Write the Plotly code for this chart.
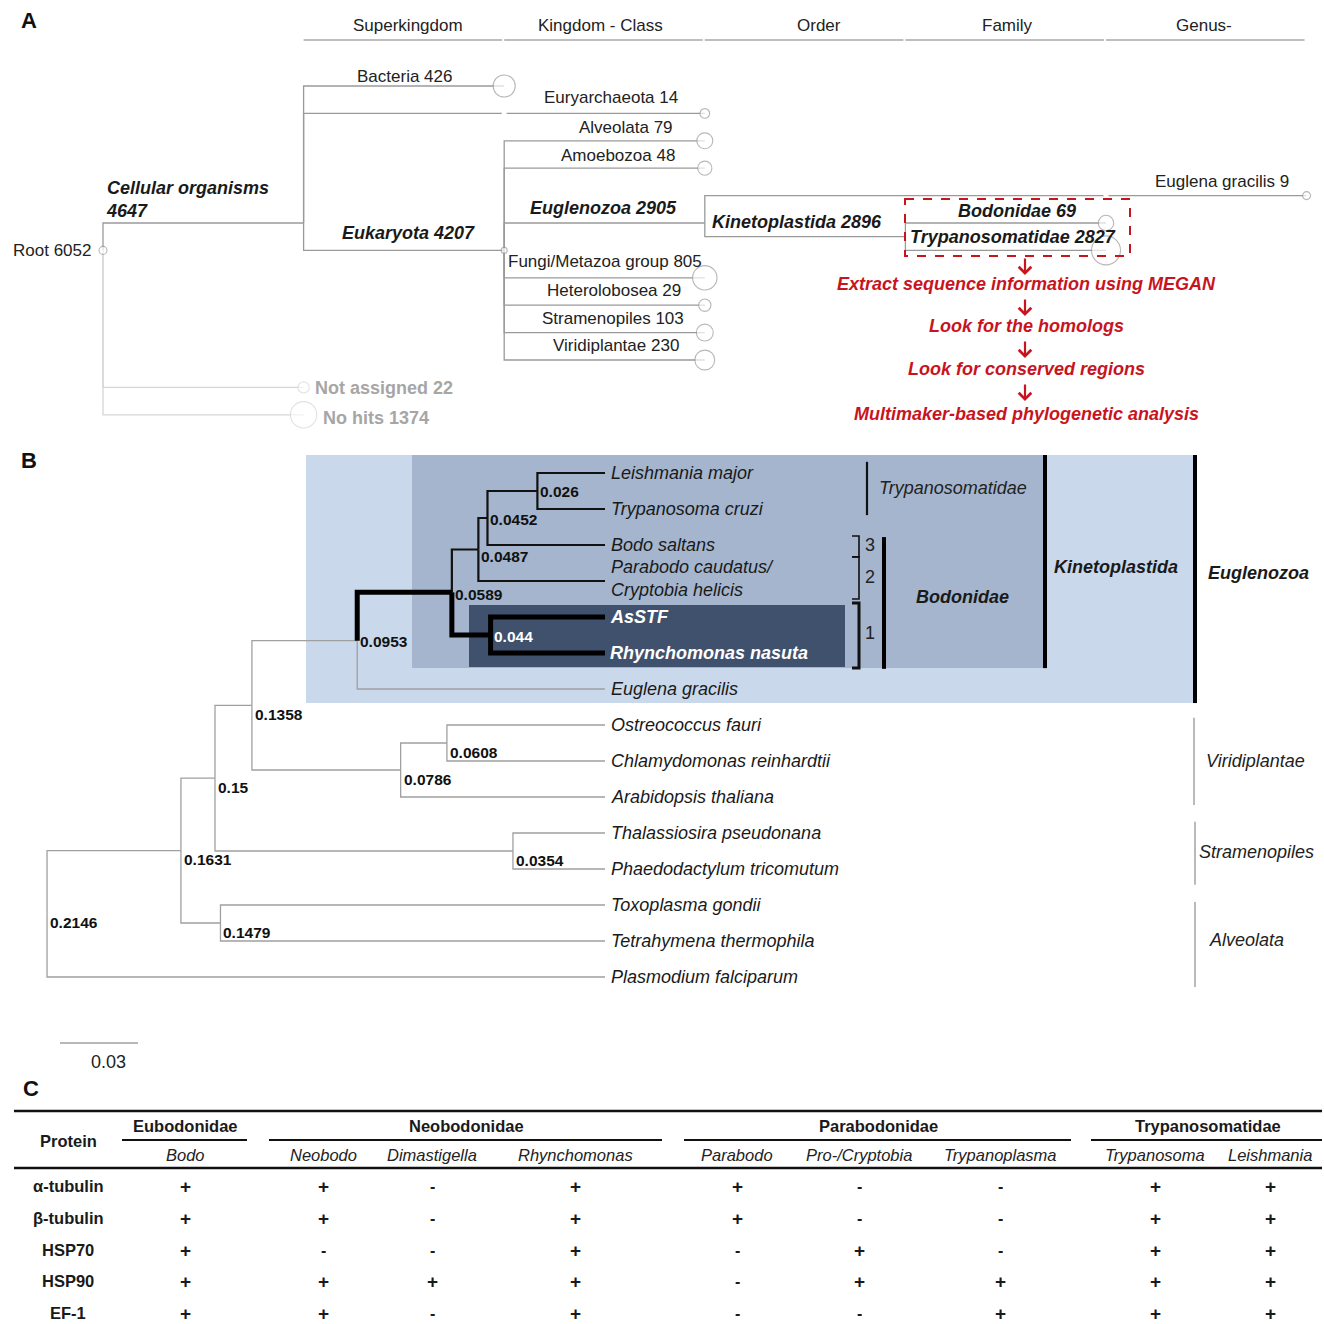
import math
import plotly.graph_objects as go

FONT = "Liberation Sans, Arial, Helvetica, sans-serif"
SIZE = 1324

# ======================= DATA =======================
# ---- Panel A : MEGAN taxonomic assignment of reads ----
rank_headers = ["Superkingdom", "Kingdom - Class", "Order", "Family", "Genus-"]
megan_taxa = ["Root", "Cellular organisms", "Bacteria", "Archaea", "Euryarchaeota",
              "Eukaryota", "Alveolata", "Amoebozoa", "Euglenozoa", "Euglena",
              "Euglena gracilis", "Kinetoplastida", "Bodonidae", "Trypanosomatidae",
              "Fungi/Metazoa group", "Heterolobosea", "Stramenopiles", "Viridiplantae",
              "Not assigned", "No hits"]
megan_parent = [None, "Root", "Cellular organisms", "Cellular organisms", "Archaea",
                "Cellular organisms", "Eukaryota", "Eukaryota", "Eukaryota", "Euglenozoa",
                "Euglena", "Euglenozoa", "Kinetoplastida", "Kinetoplastida",
                "Eukaryota", "Eukaryota", "Eukaryota", "Eukaryota", "Root", "Root"]
megan_reads = [6052, 4647, 426, 0, 14, 4207, 79, 48, 2905, 0, 9, 2896, 69, 2827,
               805, 29, 103, 230, 22, 1374]
megan_rank = [0, 1, 2, 2, 3, 2, 3, 3, 3, 5, 6, 4, 5, 5, 3, 3, 3, 3, 1, 1]
megan_order = [6, 5, 0, 1, 1, 6, 2, 3, 5, 4, 4, 5.5, 5, 6, 7, 8, 9, 10, 11, 12]
workflow_steps = ["Extract sequence information using MEGAN", "Look for the homologs",
                  "Look for conserved regions", "Multimaker-based phylogenetic analysis"]

# ---- Panel B : phylogenetic tree (node label = node height) ----
tip_names = ["Leishmania major", "Trypanosoma cruzi", "Bodo saltans",
             "Parabodo caudatus/ Cryptobia helicis", "AsSTF", "Rhynchomonas nasuta",
             "Euglena gracilis", "Ostreococcus fauri", "Chlamydomonas reinhardtii",
             "Arabidopsis thaliana", "Thalassiosira pseudonana", "Phaedodactylum tricomutum",
             "Toxoplasma gondii", "Tetrahymena thermophila", "Plasmodium falciparum"]
node_labels = ["0.026", "0.0452", "0.0487", "0.044", "0.0589", "0.0953", "0.0608",
               "0.0786", "0.1358", "0.0354", "0.15", "0.1479", "0.1631", "0.2146"]
node_children = [["Leishmania major", "Trypanosoma cruzi"],
                 ["0.026", "Bodo saltans"],
                 ["0.0452", "Parabodo caudatus/ Cryptobia helicis"],
                 ["AsSTF", "Rhynchomonas nasuta"],
                 ["0.0487", "0.044"],
                 ["0.0589", "Euglena gracilis"],
                 ["Ostreococcus fauri", "Chlamydomonas reinhardtii"],
                 ["0.0608", "Arabidopsis thaliana"],
                 ["0.0953", "0.0786"],
                 ["Thalassiosira pseudonana", "Phaedodactylum tricomutum"],
                 ["0.1358", "0.0354"],
                 ["Toxoplasma gondii", "Tetrahymena thermophila"],
                 ["0.15", "0.1479"],
                 ["0.1631", "Plasmodium falciparum"]]
scale_bar_value = 0.03

# ---- Panel C : protein presence table ----
families = ["Eubodonidae", "Neobodonidae", "Parabodonidae", "Trypanosomatidae"]
genera = ["Bodo", "Neobodo", "Dimastigella", "Rhynchomonas", "Parabodo",
          "Pro-/Cryptobia", "Trypanoplasma", "Trypanosoma", "Leishmania"]
proteins = ["α-tubulin", "β-tubulin", "HSP70", "HSP90", "EF-1"]
presence = [["+", "+", "-", "+", "+", "-", "-", "+", "+"],
            ["+", "+", "-", "+", "+", "-", "-", "+", "+"],
            ["+", "-", "-", "+", "-", "+", "-", "+", "+"],
            ["+", "+", "+", "+", "-", "+", "+", "+", "+"],
            ["+", "+", "-", "+", "-", "-", "+", "+", "+"]]

# ======================= STYLE / LAYOUT =======================
GREY = "#9a9a9a"
LIGHT = "#d6d6d6"
RED = "#c8141e"
DARK = "#1a1a1a"

fig = go.Figure()
anns, shapes = [], []


def add_text(s, x, y, size=17, color=DARK, bold=False, italic=False, xanchor="center",
             yanchor="middle", xref="x", yref="y", xshift=0, yshift=0, align="center"):
    if italic:
        s = "<i>" + s + "</i>"
    if bold:
        s = "<b>" + s + "</b>"
    anns.append(dict(text=s, x=x, y=y, xref=xref, yref=yref, showarrow=False,
                     xanchor=xanchor, yanchor=yanchor, xshift=xshift, yshift=yshift,
                     align=align, font=dict(family=FONT, size=size, color=color)))


def add_line(xs, ys, color, width, xaxis="x", yaxis="y"):
    fig.add_trace(go.Scatter(x=xs, y=ys, mode="lines", xaxis=xaxis, yaxis=yaxis,
                             line=dict(color=color, width=width),
                             hoverinfo="skip", showlegend=False))


def hline(x0, x1, y, color, width):
    shapes.append(dict(type="line", xref="x", yref="y", x0=x0, x1=x1, y0=y, y1=y,
                       line=dict(color=color, width=width)))


# ---------------- Panel A ----------------
A_X0, A_DX = 103, 200.6      # pixel of rank 0, pixels per rank
A_Y0, A_DY = 86, 27.4        # pixel of row 0, pixels per row
idx = {n: i for i, n in enumerate(megan_taxa)}

main_x, main_y, light_x, light_y = [], [], [], []
for i, name in enumerate(megan_taxa):
    p = megan_parent[i]
    if p is None:
        continue
    j = idx[p]
    xs = [megan_rank[j], megan_rank[j], megan_rank[i], None]
    ys = [megan_order[j], megan_order[i], megan_order[i], None]
    if name in ("Not assigned", "No hits"):
        light_x += xs; light_y += ys
    else:
        main_x += xs; main_y += ys
add_line(light_x, light_y, LIGHT, 1.3, "x3", "y3")
add_line(main_x, main_y, GREY, 1.3, "x3", "y3")

parents = set(p for p in megan_parent if p)
cx, cy, cs, cl = [], [], [], []
hx, hy = [], []
for i, name in enumerate(megan_taxa):
    if megan_reads[i] == 0:
        hx.append(megan_rank[i]); hy.append(megan_order[i])
        continue
    if name in parents:
        if name == "Root":
            size = 8
        elif name == "Eukaryota":
            size = 6
        else:
            continue
    else:
        size = 8.4 * math.log10(megan_reads[i])
    cx.append(megan_rank[i]); cy.append(megan_order[i]); cs.append(size)
    cl.append(LIGHT if name in ("Not assigned", "No hits") else GREY)
fig.add_trace(go.Scatter(x=hx, y=hy, mode="markers", xaxis="x3", yaxis="y3",
                         marker=dict(size=5, color="white", line=dict(width=0)),
                         hoverinfo="skip", showlegend=False))
fig.add_trace(go.Scatter(x=cx, y=cy, mode="markers", xaxis="x3", yaxis="y3",
                         marker=dict(size=cs, color="white", line=dict(width=1.1, color=cl)),
                         hoverinfo="skip", showlegend=False))

A_LABEL = {
    "Root": ("right", -10, 0, "r"),
    "Cellular organisms": ("left", -200, -24, "bi"),
    "Bacteria": ("right", -50, -10, "r"),
    "Euryarchaeota": ("right", -25, -16, "r"),
    "Eukaryota": ("right", -27, -17, "bi"),
    "Alveolata": ("right", -30, -13, "r"),
    "Amoebozoa": ("right", -28, -13, "r"),
    "Euglenozoa": ("right", -26, -15, "bi"),
    "Euglena gracilis": ("right", -16, -14, "r"),
    "Kinetoplastida": ("left", -195, -15, "bi"),
    "Bodonidae": ("center", -89, -12, "bi"),
    "Trypanosomatidae": ("center", -93, -13, "bi"),
    "Fungi/Metazoa group": ("left", -199, -16, "r"),
    "Heterolobosea": ("right", -22, -15, "r"),
    "Stramenopiles": ("right", -19, -14, "r"),
    "Viridiplantae": ("right", -24, -15, "r"),
    "Not assigned": ("left", 9, 1, "g"),
    "No hits": ("left", 17, 3, "g"),
}
for name, (xa, dx, dy, st) in A_LABEL.items():
    i = idx[name]
    sep = "<br>" if name == "Cellular organisms" else " "
    s = f"{name}{sep}{megan_reads[i]}"
    common = dict(xanchor=xa, xref="x3", yref="y3", xshift=dx, yshift=-dy, align="left")
    if st == "r":
        add_text(s, megan_rank[i], megan_order[i], 17, "#222222", **common)
    elif st == "bi":
        add_text(s, megan_rank[i], megan_order[i], 18, DARK, bold=True, italic=True, **common)
    else:
        add_text(s, megan_rank[i], megan_order[i], 18, "#a6a6a6", bold=True, **common)

header_center = [1.52, 2.48, 3.57, 4.51, 5.49]
for k, h in enumerate(rank_headers):
    add_text(h, header_center[k], 25, 17, "#222222", xref="x3", yref="y")
    L = k + 1
    shapes.append(dict(type="line", xref="x3", yref="y", x0=L + 0.0, x1=L + 0.99,
                       y0=40, y1=40, line=dict(color="#a8a8a8", width=1.6)))

shapes.append(dict(type="rect", xref="x", yref="y", x0=905, x1=1130, y0=199, y1=256,
                   line=dict(color=RED, width=2, dash="dash")))
step_y = [284, 326, 369, 414]
arrow_tip = [275, 316, 358, 401]
for k, s in enumerate(workflow_steps):
    add_text(s, 1026, step_y[k], 18, RED, bold=True, italic=True)
    anns.append(dict(x=1025, y=arrow_tip[k], xref="x", yref="y", ax=0, ay=-18,
                     showarrow=True, arrowhead=4, arrowsize=1.1, arrowwidth=2.2,
                     arrowcolor=RED, text=""))

# ---------------- Panel B ----------------
B_TIP_PX, B_PX_PER_UNIT = 605, 2600
B_ROW0, B_ROW_PX = 473, 36


def row_px(r):
    return B_ROW0 + r * B_ROW_PX


node_pos = {}
for r, t in enumerate(tip_names):
    node_pos[t] = (0.0, float(r))
children_of = dict(zip(node_labels, node_children))


def place(n):
    if n in node_pos:
        return node_pos[n]
    ys = [place(c)[1] for c in children_of[n]]
    node_pos[n] = (float(n), sum(ys) / len(ys))
    return node_pos[n]


for n in node_labels:
    place(n)

# clade background boxes (pixel x, tip-row y)
box_defs = [(306, 1195, -0.5, 6.39, "#c9d8ea"),
            (412, 1045, -0.5, 5.42, "#a4b5cd"),
            (469, 845, 3.67, 5.39, "#3f516d")]
for x0, x1, y0, y1, col in box_defs:
    shapes.append(dict(type="rect", xref="x", yref="y", x0=x0, x1=x1,
                       y0=row_px(y0), y1=row_px(y1),
                       fillcolor=col, line=dict(width=0), layer="below"))

THICK = {"0.0589", "0.044", "AsSTF", "Rhynchomonas nasuta"}
BLACK = {"0.0487", "0.0452", "0.026", "Leishmania major", "Trypanosoma cruzi",
         "Bodo saltans", "Parabodo caudatus/ Cryptobia helicis"}
seg = {"grey": ([], []), "black": ([], []), "thick": ([], [])}
for n, ch in zip(node_labels, node_children):
    px, py = node_pos[n]
    for c in ch:
        qx, qy = node_pos[c]
        key = "thick" if c in THICK else ("black" if c in BLACK else "grey")
        seg[key][0].extend([px, px, qx, None])
        seg[key][1].extend([py, qy, qy, None])
add_line(*seg["grey"], "#a0a0a0", 1.3, "x2", "y2")
add_line(*seg["black"], "#111111", 2.2, "x2", "y2")
add_line(*seg["thick"], "#000000", 5, "x2", "y2")

for t in tip_names:
    x, y = node_pos[t]
    if t in ("AsSTF", "Rhynchomonas nasuta"):
        add_text(t, x, y, 18, "white", bold=True, italic=True, xanchor="left",
                 xref="x2", yref="y2", xshift=3)
    else:
        s = t.replace("/ ", "/<br>")
        add_text(s, x, y, 18, DARK, italic=True, xanchor="left", xref="x2", yref="y2",
                 xshift=4, yshift=3 if "<br>" in s else 0, align="left")

upper_dy = {"0.026": 0, "0.0452": 1, "0.0487": 7, "0.0589": 2, "0.0953": 1, "0.044": 1}
for n in node_labels:
    x, y = node_pos[n]
    add_text(n, x, y, 15.5, "white" if n == "0.044" else "#111111", bold=True,
             xanchor="left", xref="x2", yref="y2", xshift=1, yshift=-upper_dy.get(n, 9))

# clade bars and brackets (pixel x, tip-row y)
bars = [(867, -0.31, 1.17, "#111111", 2.2), (884, 1.78, 5.44, "#000000", 4),
        (1045, -0.5, 5.42, "#000000", 4), (1195, -0.5, 6.39, "#000000", 4),
        (1194, 6.8, 9.22, "#8c8c8c", 1.2), (1195, 9.69, 11.44, "#8c8c8c", 1.2),
        (1195, 11.92, 14.28, "#8c8c8c", 1.2)]
for x, y0, y1, col, w in bars:
    shapes.append(dict(type="line", xref="x", yref="y", x0=x, x1=x,
                       y0=row_px(y0), y1=row_px(y1), line=dict(color=col, width=w)))
brackets = [(1.75, 2.33, 1.6), (2.33, 3.5, 1.6), (3.61, 5.42, 3)]
for y0, y1, w in brackets:
    a, b = row_px(y0), row_px(y1)
    shapes.append(dict(type="path", xref="x", yref="y",
                       path=f"M852,{a} L859,{a} L859,{b} L852,{b}",
                       line=dict(color="#111111", width=w)))

for s, y in zip(["3", "2", "1"], [545, 577, 633]):
    add_text(s, 870, y, 18, "#222222")
add_text("Trypanosomatidae", 877, 488, 18, "#222222", italic=True, xanchor="left")
add_text("Bodonidae", 962, 597, 18, DARK, bold=True, italic=True)
add_text("Kinetoplastida", 1052, 567, 18, DARK, bold=True, italic=True, xanchor="left")
add_text("Euglenozoa", 1206, 573, 18, DARK, bold=True, italic=True, xanchor="left")
add_text("Viridiplantae", 1204, 761, 18, "#222222", italic=True, xanchor="left")
add_text("Stramenopiles", 1197, 852, 18, "#222222", italic=True, xanchor="left")
add_text("Alveolata", 1207, 940, 18, "#222222", italic=True, xanchor="left")

sb0 = (B_TIP_PX - 60) / B_PX_PER_UNIT
shapes.append(dict(type="line", xref="x2", yref="y", x0=sb0, x1=sb0 - scale_bar_value,
                   y0=1043, y1=1043, line=dict(color="#a0a0a0", width=1.6)))
add_text(str(scale_bar_value), sb0 - scale_bar_value / 2, 1062, 18, "#222222",
         xref="x2", yref="y", xshift=9)

# ---------------- Panel C ----------------
col_x = [185, 323, 432, 575, 737, 859, 1000, 1155, 1270]
fam_span = [(122, 247), (269, 662), (684, 1071), (1091, 1322)]
fam_center = [185, 466, 878, 1208]
row_y = [1186, 1218, 1250, 1281, 1313]
hline(14, 1322, 1111, "#111111", 2.6)
hline(14, 1322, 1168, "#111111", 2.6)
for (a, b), c, f in zip(fam_span, fam_center, families):
    hline(a, b, 1140, "#111111", 2)
    add_text(f, c, 1126, 16.5, DARK, bold=True)
add_text("Protein", 68, 1141, 16.5, DARK, bold=True)
for g, x in zip(genera, col_x):
    add_text(g, x, 1155, 16.5, "#222222", italic=True)
for r, p in enumerate(proteins):
    add_text(p, 68, row_y[r], 16.5, DARK, bold=True)
    for c, v in enumerate(presence[r]):
        add_text(v, col_x[c], row_y[r], 19 if v == "+" else 16, DARK, bold=True)

for s, x, y in [("A", 29, 20), ("B", 29, 460), ("C", 31, 1088)]:
    add_text(s, x, y, 22, "#111111", bold=True)

# ---------------- axes ----------------
hid = dict(visible=False, fixedrange=True, showgrid=False, zeroline=False)
fig.update_layout(
    width=SIZE, height=SIZE, margin=dict(l=0, r=0, t=0, b=0),
    paper_bgcolor="white", plot_bgcolor="rgba(0,0,0,0)", showlegend=False,
    xaxis=dict(range=[0, SIZE], domain=[0, 1], **hid),
    yaxis=dict(range=[SIZE, 0], domain=[0, 1], **hid),
    xaxis2=dict(range=[B_TIP_PX / B_PX_PER_UNIT, (B_TIP_PX - SIZE) / B_PX_PER_UNIT],
                overlaying="x", anchor="y2", **hid),
    yaxis2=dict(range=[(SIZE - B_ROW0) / B_ROW_PX, -B_ROW0 / B_ROW_PX],
                overlaying="y", anchor="x2", **hid),
    xaxis3=dict(range=[-A_X0 / A_DX, (SIZE - A_X0) / A_DX], overlaying="x", anchor="y3", **hid),
    yaxis3=dict(range=[(SIZE - A_Y0) / A_DY, -A_Y0 / A_DY], overlaying="y", anchor="x3", **hid),
    annotations=anns, shapes=shapes,
)

fig.write_html("out.html", config={"displayModeBar": False},
               post_script="document.body.style.margin='0';document.body.style.overflow='hidden';")
